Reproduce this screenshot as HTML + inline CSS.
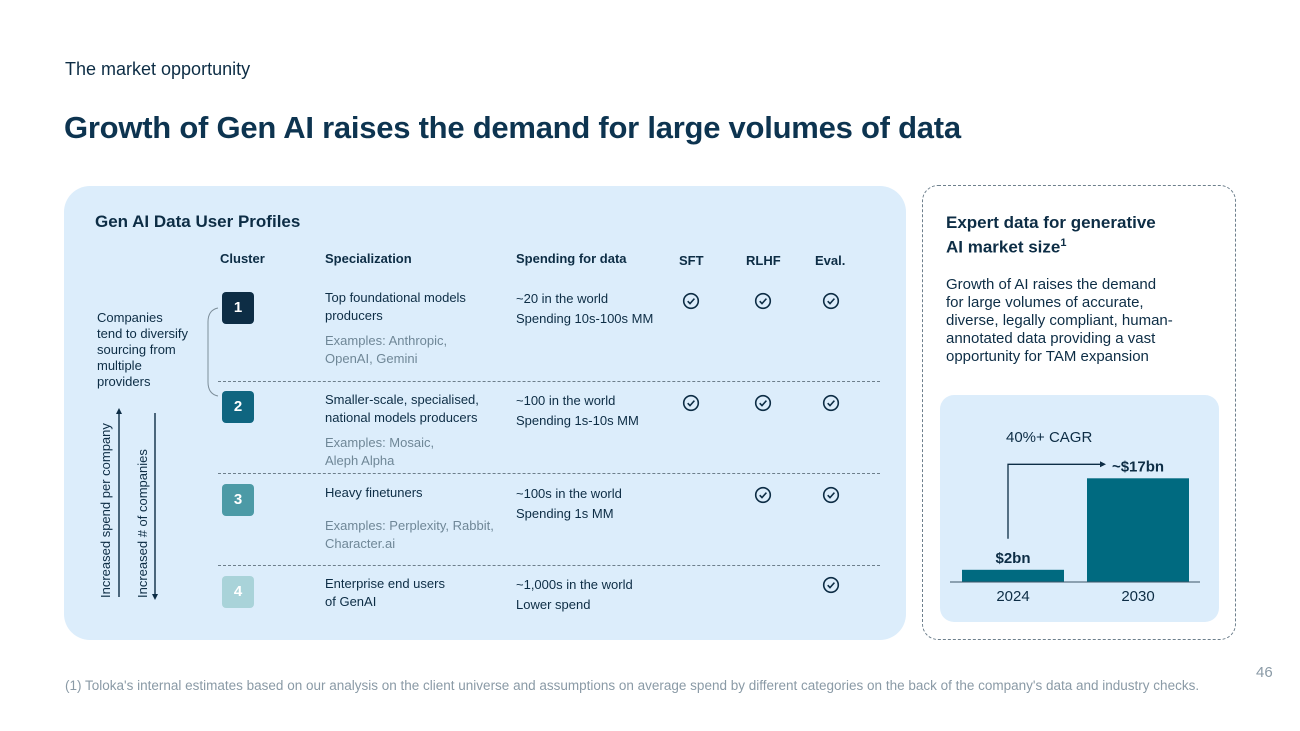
<!DOCTYPE html>
<html><head><meta charset="utf-8">
<style>
*{margin:0;padding:0;box-sizing:border-box}
body{width:1300px;height:731px;background:#fff;font-family:"Liberation Sans",Arial,sans-serif;position:relative;overflow:hidden;color:#0d2d45}
.a{position:absolute;white-space:nowrap}
.h{font-weight:bold;font-size:13px;color:#0d2d45}
.t{font-size:13px;color:#0d2d45;line-height:18px}
.ex{font-size:13px;color:#6f8797;line-height:18px}
.box{position:absolute;width:32px;height:32px;border-radius:4px;color:#fff;font-weight:bold;font-size:15px;text-align:center;line-height:32px;left:222px}
.dash{position:absolute;left:218px;width:662px;border-top:1px dashed #6d7f8c}
</style></head><body>
<div class="a" style="left:65px;top:59px;font-size:18px;color:#0d2d45">The market opportunity</div>
<div class="a" style="left:64px;top:110px;font-size:31px;font-weight:bold;color:#0d3450;letter-spacing:-0.25px">Growth of Gen AI raises the demand for large volumes of data</div>

<div style="position:absolute;left:64px;top:186px;width:842px;height:454px;background:#dcedfb;border-radius:26px"></div>
<div class="a" style="left:95px;top:212px;font-size:17px;font-weight:bold">Gen AI Data User Profiles</div>

<div class="a h" style="left:220px;top:251px">Cluster</div>
<div class="a h" style="left:325px;top:251px">Specialization</div>
<div class="a h" style="left:516px;top:251px">Spending for data</div>
<div class="a h" style="left:679px;top:253px">SFT</div>
<div class="a h" style="left:746px;top:253px">RLHF</div>
<div class="a h" style="left:815px;top:253px">Eval.</div>

<div class="a t" style="left:97px;top:310px;line-height:16px">Companies<br>tend to diversify<br>sourcing from<br>multiple<br>providers</div>
<svg style="position:absolute;left:200px;top:300px" width="24" height="100"><path d="M18,8 Q8,10 8,22 L8,82 Q8,94 18,96" fill="none" stroke="#7d8e9a" stroke-width="1"/></svg>

<div class="a" style="left:98px;top:598px;transform:rotate(-90deg);transform-origin:0 0;font-size:13px;color:#0d2d45">Increased spend per company</div>
<div class="a" style="left:135px;top:598px;transform:rotate(-90deg);transform-origin:0 0;font-size:13px;color:#0d2d45">Increased # of companies</div>
<svg style="position:absolute;left:110px;top:405px" width="60" height="200"><line x1="9" y1="192" x2="9" y2="8" stroke="#0d2d45" stroke-width="1.4"/><path d="M6,9 L9,3 L12,9Z" fill="#0d2d45"/><line x1="45" y1="8" x2="45" y2="190" stroke="#0d2d45" stroke-width="1.4"/><path d="M42,189 L45,195 L48,189Z" fill="#0d2d45"/></svg>

<div class="box" style="top:292px;background:#0d2d45">1</div>
<div class="box" style="top:391px;background:#0f6580">2</div>
<div class="box" style="top:484px;background:#4c9aa6">3</div>
<div class="box" style="top:576px;background:#a9d3d9">4</div>

<div class="dash" style="top:381px"></div>
<div class="dash" style="top:473px"></div>
<div class="dash" style="top:565px"></div>

<div class="a t" style="left:325px;top:289px">Top foundational models<br>producers</div>
<div class="a ex" style="left:325px;top:332px">Examples: Anthropic,<br>OpenAI, Gemini</div>
<div class="a t" style="left:516px;top:289px;line-height:20px">~20 in the world<br>Spending 10s-100s MM</div>

<div class="a t" style="left:325px;top:391px">Smaller-scale, specialised,<br>national models producers</div>
<div class="a ex" style="left:325px;top:434px">Examples: Mosaic,<br>Aleph Alpha</div>
<div class="a t" style="left:516px;top:391px;line-height:20px">~100 in the world<br>Spending 1s-10s MM</div>

<div class="a t" style="left:325px;top:484px">Heavy finetuners</div>
<div class="a ex" style="left:325px;top:517px">Examples: Perplexity, Rabbit,<br>Character.ai</div>
<div class="a t" style="left:516px;top:484px;line-height:20px">~100s in the world<br>Spending 1s MM</div>

<div class="a t" style="left:325px;top:575px">Enterprise end users<br>of GenAI</div>
<div class="a t" style="left:516px;top:575px;line-height:20px">~1,000s in the world<br>Lower spend</div>

<svg style="position:absolute;left:0;top:0" width="900" height="640">
<defs><g id="c"><circle cx="0" cy="0" r="7.3" fill="none" stroke="#0d2d45" stroke-width="1.6"/><path d="M-3.3,0.2 L-1,2.6 L3.4,-2.4" fill="none" stroke="#0d2d45" stroke-width="1.6"/></g></defs>
<use href="#c" x="691" y="301"/><use href="#c" x="763" y="301"/><use href="#c" x="831" y="301"/>
<use href="#c" x="691" y="403"/><use href="#c" x="763" y="403"/><use href="#c" x="831" y="403"/>
<use href="#c" x="763" y="495"/><use href="#c" x="831" y="495"/>
<use href="#c" x="831" y="585"/>
</svg>

<div style="position:absolute;left:922px;top:185px;width:314px;height:455px;border:1px dashed #6d7f8c;border-radius:16px"></div>
<div class="a" style="left:946px;top:213px;font-size:17px;font-weight:bold;line-height:20px">Expert data for generative<br>AI market size<sup style="font-size:11px">1</sup></div>
<div class="a" style="left:946px;top:276px;font-size:15px;line-height:18px;color:#0d2d45">Growth of AI raises the demand<br>for large volumes of accurate,<br>diverse, legally compliant, human-<br>annotated data providing a vast<br>opportunity for TAM expansion</div>
<div style="position:absolute;left:940px;top:395px;width:279px;height:227px;background:#dcedfb;border-radius:14px"></div>
<svg id="chart" style="position:absolute;left:0;top:0" width="1300" height="731"></svg>

<div class="a" style="left:65px;top:678px;font-size:13.5px;color:#8a9aa6">(1) Toloka's internal estimates based on our analysis on the client universe and assumptions on average spend by different categories on the back of the company's data and industry checks.</div>
<div class="a" style="left:1256px;top:664px;font-size:15px;color:#8a9aa6">46</div>

<script>
const years = ["2024","2030"];
const values = [2,17];
const valueLabels = ["$2bn","~$17bn"];
const NS="http://www.w3.org/2000/svg";
const svg=document.getElementById('chart');
const base=582, scale=6.1, x0=962, step=125, bw=102;
function yPos(v){return base-v*scale;}
function xPos(i){return x0+i*step;}
function mk(t,a){const e=document.createElementNS(NS,t);for(const k in a)e.setAttribute(k,a[k]);svg.appendChild(e);return e;}
years.forEach((y,i)=>{
  const r=mk('rect',{x:xPos(i),y:yPos(values[i]),width:bw,height:base-yPos(values[i]),fill:'#006a80'});
  
  
  const l=mk('text',{x:xPos(i)+bw/2,y:yPos(values[i])-7,'text-anchor':'middle','font-size':'15','font-weight':'bold',fill:'#0d2d45','font-family':'Liberation Sans, sans-serif'});
  l.textContent=valueLabels[i];
  
  
  const t=mk('text',{x:xPos(i)+bw/2,y:base+19,'text-anchor':'middle','font-size':'15',fill:'#0d2d45','font-family':'Liberation Sans, sans-serif'});
  t.textContent=y;
  
  
});
const ax=mk('line',{x1:950,y1:base,x2:1200,y2:base,stroke:'#3d5567','stroke-width':1});


const ay=yPos(values[1])-14, ax0=xPos(0)+46;
const p=mk('path',{d:`M${ax0},${yPos(values[0])-31} L${ax0},${ay} L${xPos(1)+14},${ay}`,fill:'none',stroke:'#0d2d45','stroke-width':1.3});


const ah=mk('path',{d:`M${xPos(1)+13},${ay-3} L${xPos(1)+19},${ay} L${xPos(1)+13},${ay+3}Z`,fill:'#0d2d45'});


const c=mk('text',{x:1006,y:442,'font-size':'15',fill:'#0d2d45','font-family':'Liberation Sans, sans-serif'});
c.textContent='40%+ CAGR';


</script>
</body></html>
